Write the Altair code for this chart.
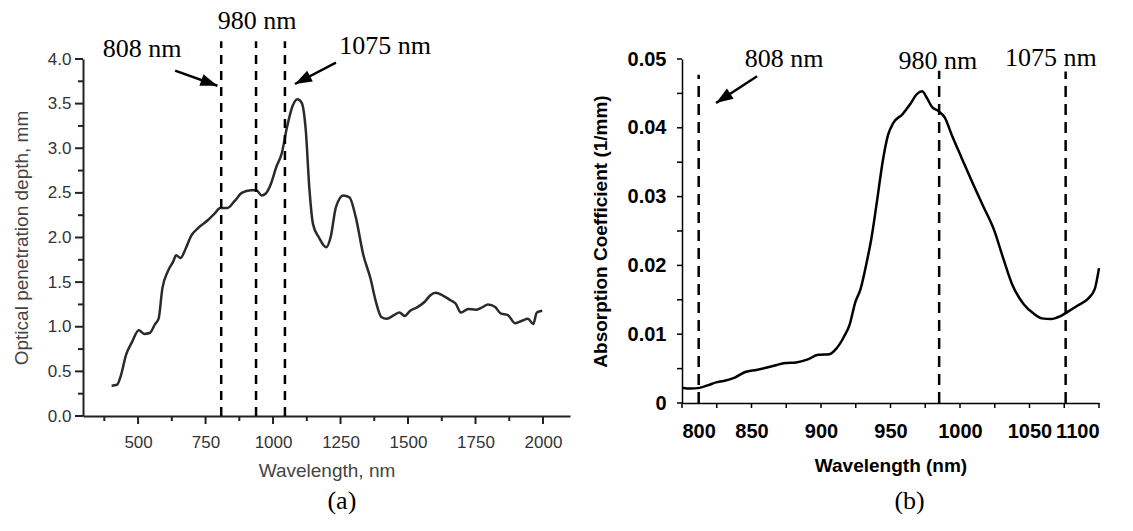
import math
import altair as alt
import pandas as pd

# ---------------- Panel (a): optical penetration depth ----------------
left_wavelength = [402, 422, 436, 456, 476, 503, 523, 543, 563, 576, 590, 610, 630, 641, 657,
                   677, 697, 724, 757, 784, 804, 831, 858, 884, 918, 938, 958, 972, 992, 1012,
                   1032, 1052, 1072, 1090, 1106, 1121, 1135, 1148, 1170, 1197, 1213, 1233, 1260,
                   1283, 1307, 1334, 1361, 1381, 1401, 1421, 1448, 1468, 1488, 1508, 1535, 1562,
                   1582, 1602, 1629, 1656, 1676, 1696, 1723, 1750, 1776, 1796, 1823, 1843, 1870,
                   1897, 1924, 1944, 1964, 1977, 1997]
left_depth = [0.34, 0.35, 0.45, 0.69, 0.82, 0.96, 0.92, 0.93, 1.03, 1.09, 1.43, 1.62, 1.73, 1.80,
              1.77, 1.88, 2.02, 2.11, 2.19, 2.27, 2.33, 2.33, 2.41, 2.50, 2.53, 2.53, 2.47, 2.49,
              2.60, 2.79, 2.94, 3.24, 3.47, 3.55, 3.51, 3.21, 2.53, 2.15, 2.00, 1.89, 2.00, 2.34,
              2.47, 2.45, 2.22, 1.81, 1.54, 1.28, 1.11, 1.09, 1.13, 1.16, 1.12, 1.18, 1.22, 1.28,
              1.35, 1.38, 1.35, 1.30, 1.26, 1.16, 1.20, 1.19, 1.22, 1.25, 1.22, 1.15, 1.13, 1.04,
              1.07, 1.09, 1.03, 1.16, 1.18]
left_lines_nm = [808, 937, 1044]
left_lines_top = [4.2, 4.2, 4.2]
left_label_text = ["808 nm", "980 nm", "1075 nm", "(a)"]
left_label_x = [515, 941, 1415, 1255]
left_label_y = [4.11, 4.43, 4.15, -0.95]
left_arrow_x = [637, 1233]
left_arrow_y = [3.87, 3.96]
left_arrow_x2 = [794, 1081]
left_arrow_y2 = [3.70, 3.72]
left_x_major = [500, 750, 1000, 1250, 1500, 1750, 2000]
left_x_minor = [375, 625, 875, 1125, 1375, 1625, 1875]
left_y_major = [0.0, 0.5, 1.0, 1.5, 2.0, 2.5, 3.0, 3.5, 4.0]
left_y_minor = [0.25, 0.75, 1.25, 1.75, 2.25, 2.75, 3.25, 3.75]

# ---------------- Panel (b): absorption coefficient ----------------
right_wavelength = [800, 806, 812.6, 819, 824.5, 830, 838, 845.6, 853.5, 864, 874.5, 882, 890, 898,
                    906, 911, 916.7, 920.6, 924.6, 928.5, 932.5, 936.4, 940.4, 944.3, 948.3, 952,
                    958.8, 964, 969, 972.8, 976, 980, 984, 989, 994, 1001, 1009, 1016.7, 1024.6,
                    1031, 1037.8, 1045.7, 1053.6, 1058.9, 1065.5, 1072, 1078.6, 1085, 1091.8,
                    1097, 1100]
right_absorption = [0.00223, 0.0021, 0.0022, 0.0026, 0.0030, 0.0032, 0.0037, 0.0045, 0.0048,
                    0.0053, 0.0058, 0.0059, 0.0063, 0.0070, 0.0071, 0.0079, 0.0097, 0.0114,
                    0.0146, 0.0166, 0.0201, 0.0241, 0.0295, 0.0350, 0.0390, 0.0407, 0.0420,
                    0.0434, 0.0449, 0.0453, 0.0444, 0.0430, 0.0425, 0.0415, 0.0390, 0.0357,
                    0.0320, 0.0286, 0.0251, 0.0211, 0.0171, 0.0144, 0.0129, 0.0123, 0.0122,
                    0.0126, 0.0134, 0.0142, 0.0151, 0.0166, 0.0196]
right_lines_nm = [812, 985, 1076]
right_lines_top = [0.0477, 0.0483, 0.0482]
right_label_text = ["808 nm", "980 nm", "1075 nm", "(b)"]
right_label_x = [873.5, 984, 1065.3, 963.7]
right_label_y = [0.0500, 0.0497, 0.0501, -0.01424]
right_arrow_x = [854]
right_arrow_y = [0.0475]
right_arrow_x2 = [824.5]
right_arrow_y2 = [0.0436]
right_x_major = [800, 850, 900, 950, 1000, 1050, 1100]
right_x_minor = [825, 875, 925, 975, 1025, 1075]
right_y_major = [0.0, 0.01, 0.02, 0.03, 0.04, 0.05]
right_y_minor = [0.005, 0.015, 0.025, 0.035, 0.045]

# ---------------- layout ----------------
LXD, LYD = [296, 2100], [0, 4]
RXD, RYD = [800, 1100], [0, 0.05]
LW, LH = 487, 357
RW, RH = 417, 344
HEAD = "M0,0L-1,-0.36L-1,0.36Z"
SERIF = "Liberation Serif"
SANS = "Liberation Sans"


def angles(x, y, x2, y2, xd, yd, w, h):
    sx = w / (xd[1] - xd[0])
    sy = h / (yd[1] - yd[0])
    return [math.degrees(math.atan2(-(d - b) * sy, (c - a) * sx)) % 360
            for a, b, c, d in zip(x, y, x2, y2)]


def panel(curve_x, curve_y, lines_x, lines_top, lab_t, lab_x, lab_y,
          ax, ay, ax2, ay2, xd, yd, w, h, xaxis, yaxis, interp, curve_color,
          dash, label_size, xmaj, xmin, ymaj, ymin, tick_major, tick_minor, tick_w, tick_c):
    X = alt.X("x:Q", scale=alt.Scale(domain=xd, nice=False, zero=False), axis=xaxis)
    Y = alt.Y("y:Q", scale=alt.Scale(domain=yd, nice=False, zero=False), axis=yaxis)
    curve = alt.Chart(pd.DataFrame({"x": curve_x, "y": curve_y})).mark_line(
        color=curve_color, strokeWidth=2.5, interpolate=interp).encode(x=X, y=Y)
    rules = alt.Chart(pd.DataFrame({"x": lines_x, "y": [0] * len(lines_x), "y2": lines_top})).mark_rule(
        color="black", strokeWidth=2.5, strokeDash=dash).encode(x=X, y=Y, y2="y2:Q")
    texts = alt.Chart(pd.DataFrame({"x": lab_x, "y": lab_y, "t": lab_t})).mark_text(
        font=SERIF, fontSize=label_size, color="black", align="center", baseline="middle").encode(
        x=X, y=Y, text="t:N")
    shafts = alt.Chart(pd.DataFrame({"x": ax, "y": ay, "x2": ax2, "y2": ay2})).mark_rule(
        color="black", strokeWidth=2.5).encode(x=X, y=Y, x2="x2:Q", y2="y2:Q")
    heads = alt.Chart(pd.DataFrame({"x": ax2, "y": ay2,
                                    "a": angles(ax, ay, ax2, ay2, xd, yd, w, h)})).mark_point(
        shape=HEAD, filled=True, size=1156, color="black", opacity=1, strokeWidth=0).encode(
        x=X, y=Y, angle=alt.Angle("a:Q", scale=None))
    layers = [curve, rules, shafts, heads, texts]
    for vals, size in ((xmaj, tick_major), (xmin, tick_minor)):
        layers.append(alt.Chart(pd.DataFrame({"x": vals, "y": [yd[0]] * len(vals)})).mark_tick(
            orient="vertical", size=size, thickness=tick_w, color=tick_c, opacity=1,
            yOffset=size / 2).encode(x=X, y=Y))
    for vals, size in ((ymaj, tick_major), (ymin, tick_minor)):
        layers.append(alt.Chart(pd.DataFrame({"x": [xd[0]] * len(vals), "y": vals})).mark_tick(
            orient="horizontal", size=size, thickness=tick_w, color=tick_c, opacity=1,
            xOffset=-size / 2).encode(x=X, y=Y))
    return alt.layer(*layers).properties(width=w, height=h)


left_xaxis = alt.Axis(
    values=left_x_major, format="d", ticks=False, grid=False,
    domainColor="#222222", domainWidth=2,
    labelFont=SANS, labelFontSize=17, labelColor="#333333", labelPadding=18, labelOverlap=False,
    title="Wavelength, nm", titleFont=SANS, titleFontSize=19, titleFontWeight="normal",
    titleColor="#444444", titlePadding=11)
left_yaxis = alt.Axis(
    values=left_y_major, format=".1f", ticks=False, grid=False,
    domainColor="#222222", domainWidth=2,
    labelFont=SANS, labelFontSize=17, labelColor="#333333", labelPadding=12, labelOverlap=False,
    title="Optical penetration depth, mm", titleFont=SANS, titleFontSize=19,
    titleFontWeight="normal", titleColor="#444444", titlePadding=16)

right_xaxis = alt.Axis(
    values=right_x_major, format="d", ticks=False, grid=False,
    domainColor="black", domainWidth=1.5,
    labelFont=SANS, labelFontSize=20, labelFontWeight="bold", labelColor="black",
    labelPadding=18, labelOverlap=False,
    title="Wavelength (nm)", titleFont=SANS, titleFontSize=19, titleFontWeight="bold",
    titleColor="black", titlePadding=15)
right_yaxis = alt.Axis(
    values=right_y_major, ticks=False, grid=False,
    labelExpr="datum.value == 0 ? '0' : format(datum.value, '.2f')",
    domainColor="black", domainWidth=1.5,
    labelFont=SANS, labelFontSize=20, labelFontWeight="bold", labelColor="black",
    labelPadding=16, labelOverlap=False,
    title="Absorption Coefficient (1/mm)", titleFont=SANS, titleFontSize=19, titleFontWeight="bold",
    titleColor="black", titlePadding=17)

left = panel(left_wavelength, left_depth, left_lines_nm, left_lines_top, left_label_text,
             left_label_x, left_label_y, left_arrow_x, left_arrow_y, left_arrow_x2, left_arrow_y2,
             LXD, LYD, LW, LH, left_xaxis, left_yaxis, "monotone", "#2a2a2a", [9, 7], 26,
             left_x_major, left_x_minor, left_y_major, left_y_minor, 8, 5, 2, "#222222")
right = panel(right_wavelength, right_absorption, right_lines_nm, right_lines_top, right_label_text,
              right_label_x, right_label_y, right_arrow_x, right_arrow_y, right_arrow_x2,
              right_arrow_y2, RXD, RYD, RW, RH, right_xaxis, right_yaxis, "monotone", "black",
              [11, 7], 26,
              right_x_major, right_x_minor, right_y_major, right_y_minor, 5, 5, 1.5, "black")

chart = alt.hconcat(left, right, spacing=112, bounds="flush").properties(
    padding={"left": 12, "top": 7, "right": 0, "bottom": 0},
    background="white",
).configure_view(stroke=None)

chart.save("out.html", embed_options={"renderer": "svg", "actions": False})
